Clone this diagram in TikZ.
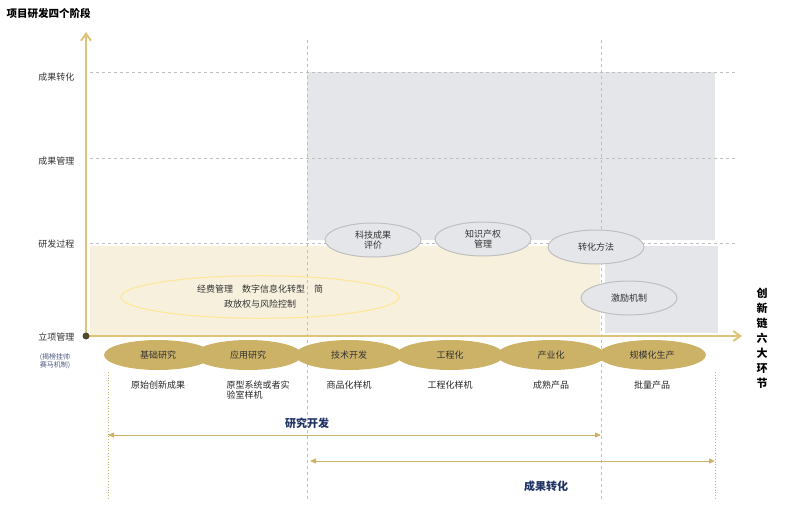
\documentclass[tikz,border=0pt]{standalone}
\usepackage{fontspec}
\setmainfont{Noto Sans CJK SC}
\usetikzlibrary{arrows.meta,shapes.geometric}
\definecolor{gold}{RGB}{204,178,102}
\definecolor{axisgold}{RGB}{222,196,120}
\definecolor{panelgray}{RGB}{229,230,234}
\definecolor{panelbeige}{RGB}{247,240,220}
\definecolor{navy}{RGB}{31,50,100}
\tikzset{
  stage/.style={ellipse,fill=gold,minimum width=108pt,minimum height=30pt,inner sep=0pt,font=\fontsize{9}{10}\selectfont,text=black!80},
  tool/.style={ellipse,draw=black!25,fill=panelgray,line width=1pt,minimum width=96pt,minimum height=34pt,inner sep=0pt,align=center,font=\fontsize{9}{10}\selectfont,text=black!80},
  ylab/.style={anchor=east,font=\fontsize{9}{10}\selectfont,text=black!80},
  result/.style={font=\fontsize{9}{10}\selectfont,text=black!85,align=left,anchor=north},
  grid/.style={black!25,dashed,line width=0.6pt},
  span/.style={{Triangle[length=6pt,width=5pt]}-{Triangle[length=6pt,width=5pt]},gold,line width=0.8pt}
}
\begin{document}
\begin{tikzpicture}[x=1pt,y=-1pt]
\useasboundingbox (0,0) rectangle (785,507);

% panels
\fill[panelgray] (307,72) rectangle (715,240);
\fill[panelgray] (605,246) rectangle (718,333);
\fill[panelbeige] (90,246) rectangle (600,335);

% grid lines
\foreach \y in {72,158,243} \draw[grid] (90,\y) -- (735,\y);
\foreach \x in {307,601} \draw[grid] (\x,40) -- (\x,500);
\foreach \x in {108,715} \draw[gold,dotted,line width=0.8pt] (\x,372) -- (\x,500);

% axes
\coordinate (o) at (86,336);
\coordinate (ytop) at (86,32);
\coordinate (xend) at (742,336);
\draw[axisgold,line width=2pt,-{Straight Barb[length=7pt,width=10pt]}] (o) -- (ytop);
\draw[axisgold,line width=2pt,-{Straight Barb[length=7pt,width=10pt]}] (o) -- (xend);
\fill[black!60!gold] (o) circle (3.5pt);

\node[font=\bfseries\fontsize{10.5}{12}\selectfont,anchor=west] (title) at (3,13) {项目研发四个阶段};

% y labels
\node[ylab] (y1) at (78,77) {成果转化};
\node[ylab] (y2) at (78,161) {成果管理};
\node[ylab] (y3) at (78,244) {研发过程};
\node[ylab] (y4) at (78,337) {立项管理};
\node[font=\fontsize{7}{8}\selectfont,text=navy!80,align=center] (bang) at (55,361) {(揭榜挂帅\\赛马机制)};

% stages
\node[stage] (s1) at (158,355) {基础研究};
\node[stage] (s2) at (248,355) {应用研究};
\node[stage] (s3) at (349,355) {技术开发};
\node[stage] (s4) at (450,355) {工程化};
\node[stage] (s5) at (551,355) {产业化};
\node[stage] (s6) at (652,355) {规模化生产};

% outputs
\node[result] (o1) at (s1 |- 0,377) {原始创新成果};
\node[result] (o2) at (258,377) {原型系统或者实\\验室样机};
\node[result] (o3) at (s3 |- 0,377) {商品化样机};
\node[result] (o4) at (s4 |- 0,377) {工程化样机};
\node[result] (o5) at (s5 |- 0,377) {成熟产品};
\node[result] (o6) at (s6 |- 0,377) {批量产品};

% tools
\node[tool] (t1) at (373,240) {科技成果\\评价};
\node[tool] (t2) at (483,239) {知识产权\\管理};
\node[tool] (t3) at (596,247) {转化方法};
\node[tool] (t4) at (629,298) {激励机制};
\node[ellipse,draw=yellow!60!orange!40,line width=1pt,minimum width=278pt,minimum height=38pt,align=center,font=\fontsize{9}{15}\selectfont,text=black!80] (mgmt) at (260,297) {经费管理\quad 数字信息化转型\quad 简\\政放权与风险控制};

% spans
\coordinate (r1) at (108,435);
\coordinate (r2) at (601,435);
\coordinate (c1) at (310,461);
\coordinate (c2) at (715,461);
\draw[span] (r1) -- (r2);
\draw[span] (c1) -- (c2);
\node[font=\bfseries\fontsize{11}{12}\selectfont,text=navy] (rd) at (307,423) {研究开发};
\node[font=\bfseries\fontsize{11}{12}\selectfont,text=navy] (cz) at (546,486) {成果转化};

\node[font=\bfseries\fontsize{11}{15}\selectfont,align=center] (chain) at (762,338) {创\\新\\链\\六\\大\\环\\节};
\end{tikzpicture}
\end{document}
